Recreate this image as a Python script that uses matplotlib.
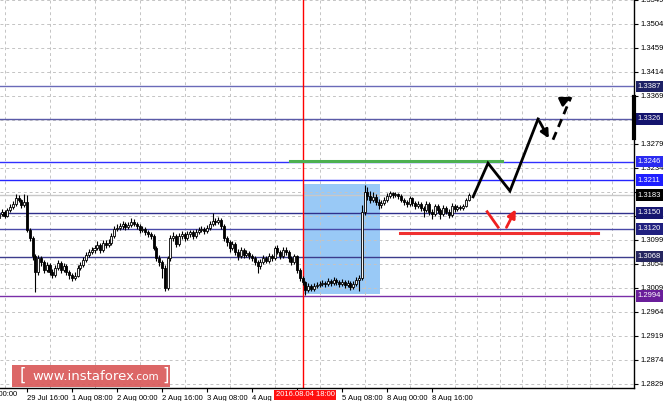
import matplotlib.pyplot as plt
from matplotlib.patches import Rectangle
from matplotlib.transforms import blended_transform_factory

# GBPUSD H1, bar index 0 = 29 Jul 2016 00:00 (weekend bars skipped)
first_bar = 6
first_open = 1.3140
closes = [
    1.3148, 1.3152, 1.3144, 1.3155, 1.3161, 1.3167, 1.3178, 1.3174, 1.3165, 1.3170,
    1.3118, 1.3103, 1.3069, 1.3039, 1.3065, 1.3058, 1.3043, 1.3052, 1.3039, 1.3033,
    1.3047, 1.3056, 1.3043, 1.3050, 1.3039, 1.3033, 1.3028, 1.3032, 1.3047, 1.3052,
    1.3062, 1.3071, 1.3077, 1.3080, 1.3084, 1.3090, 1.3080, 1.3093, 1.3090, 1.3093,
    1.3107, 1.3120, 1.3122, 1.3125, 1.3129, 1.3123, 1.3127, 1.3133, 1.3129, 1.3125,
    1.3118, 1.3120, 1.3114, 1.3110, 1.3107, 1.3084, 1.3065, 1.3058, 1.3047, 1.3009,
    1.3065, 1.3103, 1.3107, 1.3092, 1.3107, 1.3110, 1.3103, 1.3110, 1.3114, 1.3107,
    1.3114, 1.3118, 1.3120, 1.3116, 1.3122, 1.3129, 1.3135, 1.3133, 1.3137, 1.3125,
    1.3103, 1.3095, 1.3084, 1.3092, 1.3077, 1.3069, 1.3080, 1.3071, 1.3075, 1.3069,
    1.3065, 1.3058, 1.3050, 1.3058, 1.3065, 1.3060, 1.3069, 1.3065, 1.3084, 1.3077,
    1.3069, 1.3080, 1.3077, 1.3065, 1.3058, 1.3069, 1.3043, 1.3028, 1.3020, 1.3005,
    1.3013, 1.3007, 1.3013, 1.3015, 1.3017, 1.3018, 1.3017, 1.3022, 1.3018, 1.3024,
    1.3020, 1.3017, 1.3020, 1.3015, 1.3018, 1.3011, 1.3017, 1.3024, 1.3028, 1.3152,
    1.3189, 1.3182, 1.3174, 1.3180, 1.3170, 1.3165, 1.3168, 1.3174, 1.3182, 1.3187,
    1.3183, 1.3185, 1.3182, 1.3174, 1.3170, 1.3167, 1.3178, 1.3168, 1.3163, 1.3167,
    1.3159, 1.3155, 1.3167, 1.3152, 1.3148, 1.3163, 1.3155, 1.3148, 1.3159, 1.3152,
    1.3146, 1.3163, 1.3157, 1.3161, 1.3159, 1.3163, 1.3174, 1.3183,
]
highs = [
    1.3152, 1.3157, 1.3155, 1.3159, 1.3167, 1.3172, 1.3185, 1.3183, 1.3176, 1.3185,
    1.3183, 1.3122, 1.3107, 1.3073, 1.3071, 1.3069, 1.3062, 1.3058, 1.3056, 1.3045,
    1.3052, 1.3062, 1.3060, 1.3056, 1.3054, 1.3043, 1.3037, 1.3039, 1.3052, 1.3058,
    1.3067, 1.3077, 1.3082, 1.3086, 1.3090, 1.3097, 1.3093, 1.3099, 1.3099, 1.3101,
    1.3112, 1.3125, 1.3129, 1.3131, 1.3135, 1.3133, 1.3133, 1.3140, 1.3138, 1.3133,
    1.3129, 1.3125, 1.3123, 1.3118, 1.3114, 1.3110, 1.3088, 1.3071, 1.3062, 1.3052,
    1.3069, 1.3108, 1.3114, 1.3110, 1.3112, 1.3116, 1.3114, 1.3116, 1.3118, 1.3118,
    1.3120, 1.3123, 1.3125, 1.3123, 1.3127, 1.3135, 1.3150, 1.3140, 1.3142, 1.3140,
    1.3129, 1.3107, 1.3099, 1.3097, 1.3095, 1.3082, 1.3086, 1.3084, 1.3080, 1.3078,
    1.3073, 1.3069, 1.3062, 1.3063, 1.3071, 1.3069, 1.3075, 1.3073, 1.3088, 1.3090,
    1.3080, 1.3086, 1.3086, 1.3080, 1.3069, 1.3073, 1.3071, 1.3047, 1.3032, 1.3022,
    1.3018, 1.3017, 1.3018, 1.3020, 1.3022, 1.3024, 1.3022, 1.3028, 1.3026, 1.3030,
    1.3028, 1.3024, 1.3026, 1.3024, 1.3024, 1.3022, 1.3022, 1.3030, 1.3033, 1.3165,
    1.3202, 1.3198, 1.3191, 1.3189, 1.3185, 1.3176, 1.3174, 1.3180, 1.3187, 1.3191,
    1.3189, 1.3189, 1.3187, 1.3185, 1.3178, 1.3174, 1.3182, 1.3180, 1.3172, 1.3172,
    1.3170, 1.3163, 1.3172, 1.3170, 1.3157, 1.3167, 1.3167, 1.3159, 1.3165, 1.3163,
    1.3157, 1.3168, 1.3167, 1.3165, 1.3165, 1.3167, 1.3178, 1.3187,
]
lows = [
    1.3137, 1.3144, 1.3140, 1.3142, 1.3152, 1.3157, 1.3163, 1.3170, 1.3159, 1.3161,
    1.3114, 1.3097, 1.3062, 1.3001, 1.3033, 1.3050, 1.3037, 1.3039, 1.3033, 1.3028,
    1.3030, 1.3043, 1.3037, 1.3039, 1.3033, 1.3026, 1.3022, 1.3024, 1.3030, 1.3043,
    1.3048, 1.3058, 1.3067, 1.3073, 1.3075, 1.3080, 1.3075, 1.3077, 1.3084, 1.3086,
    1.3090, 1.3103, 1.3116, 1.3118, 1.3120, 1.3118, 1.3120, 1.3123, 1.3125, 1.3120,
    1.3112, 1.3114, 1.3108, 1.3105, 1.3101, 1.3080, 1.3060, 1.3050, 1.3028, 1.3003,
    1.3005, 1.3060, 1.3097, 1.3086, 1.3088, 1.3101, 1.3097, 1.3099, 1.3105, 1.3101,
    1.3103, 1.3110, 1.3114, 1.3110, 1.3112, 1.3118, 1.3125, 1.3127, 1.3129, 1.3120,
    1.3097, 1.3088, 1.3077, 1.3080, 1.3071, 1.3062, 1.3065, 1.3065, 1.3067, 1.3063,
    1.3060, 1.3052, 1.3037, 1.3045, 1.3054, 1.3056, 1.3056, 1.3060, 1.3062, 1.3073,
    1.3063, 1.3065, 1.3071, 1.3058, 1.3052, 1.3054, 1.3037, 1.3022, 1.3015, 1.2996,
    1.3001, 1.3003, 1.3003, 1.3009, 1.3011, 1.3013, 1.3011, 1.3013, 1.3013, 1.3015,
    1.3015, 1.3011, 1.3013, 1.3009, 1.3011, 1.3005, 1.3007, 1.3013, 1.3003, 1.3024,
    1.3146, 1.3174, 1.3168, 1.3170, 1.3165, 1.3157, 1.3159, 1.3165, 1.3170, 1.3178,
    1.3178, 1.3180, 1.3176, 1.3170, 1.3165, 1.3161, 1.3163, 1.3163, 1.3157, 1.3159,
    1.3153, 1.3142, 1.3152, 1.3146, 1.3138, 1.3144, 1.3150, 1.3138, 1.3144, 1.3148,
    1.3140, 1.3142, 1.3152, 1.3153, 1.3155, 1.3155, 1.3161, 1.3172,
]

# support / resistance levels
levels = [1.3387, 1.3326, 1.3246, 1.3211, 1.3150, 1.3120, 1.3068, 1.2994]
level_colors = ['#6a6ab8', '#5a5aa8', '#3030ff', '#2424ff', '#30308c', '#4848a8', '#3c3c8c', '#7a2ea8']
box_colors = ['#1e2266', '#14146e', '#2a2af0', '#1e1eff', '#161670', '#202080', '#262660', '#6a1e9a']
bid = 1.3183

y_ticks = [1.2829, 1.2874, 1.2919, 1.2964, 1.3009, 1.3054, 1.3099, 1.3144, 1.3189,
           1.3234, 1.3279, 1.3324, 1.3369, 1.3414, 1.3459, 1.3504, 1.3549]
hidden_y = [1.3189, 1.3324]  # covered by the level boxes
x_ticks = [16, 32, 48, 64, 80, 96, 112, 128, 144, 160]
x_labels = ['29 Jul 16:00', '1 Aug 08:00', '2 Aug 00:00', '2 Aug 16:00', '3 Aug 08:00',
            '4 Aug 00:00', '', '5 Aug 08:00', '8 Aug 00:00', '8 Aug 16:00']
marker_bar = 114
marker_label = '2016.08.04 18:00'

# drawn annotations (bar index, price)
zone_bars = [114, 141.5]
zone_prices = [1.2998, 1.3204]
green_bars = [109.5, 185]
green_price = 1.3247
red_bars = [148.6, 219]
red_price = 1.3112
path_bars = [174.6, 179.9, 187.7, 197.7, 202.0]
path_prices = [1.3180, 1.3243, 1.3191, 1.3326, 1.3285]
dash_bars = [203.0, 209.4]
dash_prices = [1.3287, 1.3367]
red_arrow_bars = [179.6, 183.5, 186.0, 190.2]
red_arrow_prices = [1.3152, 1.3123, 1.3118, 1.3161]

opens = [first_open] + closes[:-1]
bars = list(range(first_bar, first_bar + len(closes)))

plt.rcParams['font.family'] = ['Liberation Sans', 'DejaVu Sans']
fig = plt.figure(figsize=(6.64, 4.01), dpi=100)
ax = fig.add_axes([0, 13 / 401, 634 / 664, 388 / 401])

# ticks and grid
ax.set_yticks(y_ticks)
ax.set_yticklabels(['' if t in hidden_y else '%.4f' % t for t in y_ticks])
ax.set_xticks(x_ticks)
ax.set_xticklabels(x_labels)
ax.set_xticks(range(0, 240, 8), minor=True)
ax.set_xlim(6.4, 231.8)
ax.set_ylim(1.28215, 1.3549)
ax.grid(True, which='major', axis='y', color='#c4c4c4', linestyle=(0, (3, 3)), linewidth=0.7)
ax.grid(True, which='minor', axis='x', color='#c4c4c4', linestyle=(0, (3, 3)), linewidth=0.7)
ax.yaxis.tick_right()
ax.tick_params(axis='y', length=3, pad=1.5, labelsize=5.5, colors='black')
ax.tick_params(axis='x', which='major', length=3, pad=2, labelsize=5.5)
ax.tick_params(axis='x', which='minor', length=0)
for lbl in ax.get_xticklabels():
    lbl.set_ha('left')
for side in ['top', 'left']:
    ax.spines[side].set_visible(False)
ax.spines['right'].set_linewidth(1)
ax.spines['bottom'].set_linewidth(1)

# highlighted zone
ax.add_patch(Rectangle((zone_bars[0], zone_prices[0]), zone_bars[1] - zone_bars[0],
                       zone_prices[1] - zone_prices[0], facecolor='#8ec4f6', alpha=0.9,
                       edgecolor='none', zorder=1))

# levels
ax.axhline(bid, color='#c8c8c8', lw=1, zorder=1.6)
for lvl, col in zip(levels, level_colors):
    ax.axhline(lvl, color=col, lw=1, zorder=2)
ax.axvline(marker_bar, color='red', lw=1, zorder=2)

# candles
for x, o, h, l, c in zip(bars, opens, highs, lows, closes):
    ax.vlines(x, l, h, color='black', lw=0.8, zorder=3)
    body = max(abs(c - o), 0.00008)
    if c >= o:
        ax.bar(x, body, bottom=o, width=0.72, color='#f4f4f4', edgecolor='black', lw=0.6, zorder=3.1)
    else:
        ax.bar(x, body, bottom=c, width=0.72, color='black', edgecolor='black', lw=0.6, zorder=3.1)

# forecast drawings
ax.plot(green_bars, [green_price, green_price], color='#4cb050', lw=2.2, zorder=4)
ax.plot(red_bars, [red_price, red_price], color='#f03030', lw=2.2, zorder=4)
ax.plot(path_bars[:4], path_prices[:4], color='black', lw=2, zorder=5, solid_joinstyle='miter')
ax.annotate('', xy=(path_bars[4], path_prices[4]), xytext=(path_bars[3], path_prices[3]),
            arrowprops=dict(arrowstyle='-|>', color='black', lw=2, mutation_scale=12), zorder=5)
ax.plot(dash_bars, dash_prices, color='black', lw=2, ls=(0, (3, 2)), zorder=5)
ax.annotate('', xy=(dash_bars[1], dash_prices[1]),
            xytext=(dash_bars[1] - 0.8, dash_prices[1] - 0.00020),
            arrowprops=dict(arrowstyle='-|>', color='black', lw=2, mutation_scale=14), zorder=5)
ax.plot(red_arrow_bars[:2], red_arrow_prices[:2], color='#f02020', lw=2, zorder=5)
ax.annotate('', xy=(red_arrow_bars[3], red_arrow_prices[3]),
            xytext=(red_arrow_bars[2], red_arrow_prices[2]),
            arrowprops=dict(arrowstyle='-|>', color='#f02020', lw=2, mutation_scale=12), zorder=5)

# price labels on the right axis
trans = blended_transform_factory(ax.transAxes, ax.transData)
for lvl, col in zip(levels, box_colors):
    ax.text(1.006, lvl, '%.4f' % lvl, transform=trans, ha='left', va='center', fontsize=5.5,
            color='white', clip_on=False, zorder=6,
            bbox=dict(boxstyle='square,pad=0.3', fc=col, ec='none'))
ax.text(1.006, bid, '%.4f' % bid, transform=trans, ha='left', va='center', fontsize=5.5,
        color='white', clip_on=False, zorder=6,
        bbox=dict(boxstyle='square,pad=0.3', fc='black', ec='none'))
ax.plot([1.0, 1.0], [1.3290, 1.3367], transform=trans, color='black', lw=3,
        clip_on=False, zorder=6)

# time marker label
tx = blended_transform_factory(ax.transData, ax.transAxes)
ax.text(marker_bar - 9.6, -0.018, marker_label, transform=tx, ha='left', va='center',
        fontsize=5.5, color='white', clip_on=False, zorder=6,
        bbox=dict(boxstyle='square,pad=0.2', fc='#ff1010', ec='none'))
fig.text(17 / 664, 6 / 401, '29 Jul 00:00', ha='right', va='center', fontsize=5.5)

# watermark
fig.patches.append(Rectangle((12 / 664, 14 / 401), 158 / 664, 22 / 401, transform=fig.transFigure,
                             facecolor='#d95a5a', alpha=0.92, edgecolor='none', zorder=10))
fig.text(20 / 664, 25 / 401, '[', color='white', fontsize=12, ha='left', va='center', zorder=11,
         family='DejaVu Sans')
fig.text(32 / 664, 25 / 401, 'www.instaforex', color='white', fontsize=9.5, ha='left', va='center',
         zorder=11, family='DejaVu Sans')
fig.text(134 / 664, 24 / 401, '.com', color='white', fontsize=7.5, ha='left', va='center',
         zorder=11, family='DejaVu Sans')
fig.text(162 / 664, 25 / 401, ']', color='white', fontsize=12, ha='left', va='center', zorder=11,
         family='DejaVu Sans')

fig.savefig('out.png', dpi=100)
